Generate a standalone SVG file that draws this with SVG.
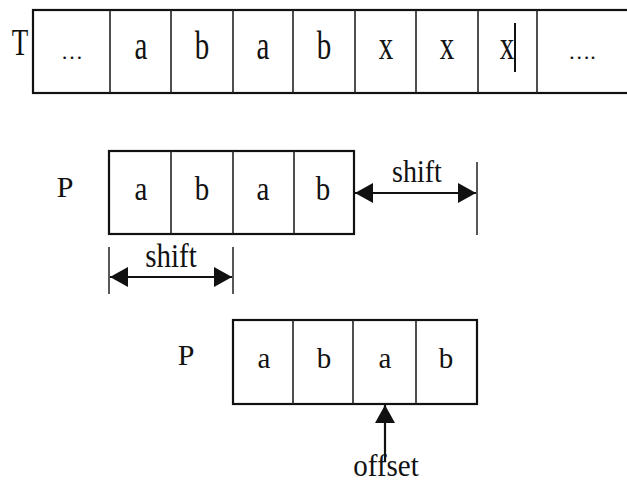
<svg xmlns="http://www.w3.org/2000/svg" width="627" height="482" viewBox="0 0 627 482" font-family="Liberation Serif, Times New Roman, DejaVu Serif, serif">
<style>
text{font-family:'Liberation Serif','Times New Roman','DejaVu Serif',serif;font-size:29px;fill:#111;text-anchor:middle}
.box{fill:#fff;stroke:#111;stroke-width:2.2}
.div{stroke:#222;stroke-width:1.6}
.conn{stroke:#111;stroke-width:2.2;fill:none}
.tick{stroke:#111;stroke-width:1.4}
.dots{font-size:22px}
</style>
<defs>
<marker id="ah" viewBox="0 0 18 20" refX="18" refY="10" markerWidth="18" markerHeight="20" markerUnits="userSpaceOnUse" orient="auto-start-reverse">
<path d="M0,0 L18,10 L0,20 Z" fill="#111"/>
</marker>
</defs>
<rect width="627" height="482" fill="#fff"/>
<g id="text-T">
<text transform="translate(20,55) scale(1,1.4)" style="font-size:27px">T</text>
<rect class="box" x="33" y="10" width="600" height="83"/>
<line class="div" x1="110" y1="10" x2="110" y2="93"/>
<line class="div" x1="171" y1="10" x2="171" y2="93"/>
<line class="div" x1="233" y1="10" x2="233" y2="93"/>
<line class="div" x1="293" y1="10" x2="293" y2="93"/>
<line class="div" x1="355" y1="10" x2="355" y2="93"/>
<line class="div" x1="416" y1="10" x2="416" y2="93"/>
<line class="div" x1="478" y1="10" x2="478" y2="93"/>
<line class="div" x1="537" y1="10" x2="537" y2="93"/>
<text class="dots" x="72" y="59">…</text>
<text transform="translate(141,59) scale(1,1.35)">a</text>
<text transform="translate(202,59) scale(1,1.35)">b</text>
<text transform="translate(263,59) scale(1,1.35)">a</text>
<text transform="translate(324,59) scale(1,1.35)">b</text>
<text transform="translate(386,59) scale(1,1.35)">x</text>
<text transform="translate(447,59) scale(1,1.35)">x</text>
<text transform="translate(507,59) scale(1,1.35)">x</text>
<line x1="515" y1="23" x2="515" y2="72" stroke="#111" stroke-width="2"/>
<text class="dots" x="582" y="59">….</text>
</g>
<g id="pattern-P1">
<text x="65" y="197" style="font-size:30px">P</text>
<rect class="box" x="109" y="151" width="245" height="83"/>
<line class="div" x1="171" y1="151" x2="171" y2="234"/>
<line class="div" x1="233" y1="151" x2="233" y2="234"/>
<line class="div" x1="294" y1="151" x2="294" y2="234"/>
<text transform="translate(141,200) scale(1,1.15)">a</text>
<text transform="translate(202,200) scale(1,1.15)">b</text>
<text transform="translate(263,200) scale(1,1.15)">a</text>
<text transform="translate(323,200) scale(1,1.15)">b</text>
</g>
<g id="pattern-P2">
<text x="186" y="365" style="font-size:30px">P</text>
<rect class="box" x="233" y="320" width="244" height="84"/>
<line class="div" x1="293" y1="320" x2="293" y2="404"/>
<line class="div" x1="353" y1="320" x2="353" y2="404"/>
<line class="div" x1="416" y1="320" x2="416" y2="404"/>
<text transform="translate(264,368) scale(1,1.05)">a</text>
<text transform="translate(324,368) scale(1,1.05)">b</text>
<text transform="translate(385,368) scale(1,1.05)">a</text>
<text transform="translate(446,368) scale(1,1.05)">b</text>
</g>
<g id="connectors">
<line class="conn" x1="355" y1="193" x2="476" y2="193" marker-start="url(#ah)" marker-end="url(#ah)"/>
<line class="tick" x1="477" y1="162" x2="477" y2="235"/>
<text transform="translate(417,182) scale(1,1.15)" style="font-size:28px">shift</text>
<line class="tick" x1="109" y1="247" x2="109" y2="294"/>
<line class="tick" x1="233" y1="247" x2="233" y2="294"/>
<line class="conn" x1="110" y1="277" x2="232" y2="277" marker-start="url(#ah)" marker-end="url(#ah)"/>
<text transform="translate(171,267) scale(1,1.15)" style="font-size:29px">shift</text>
<line class="conn" x1="385" y1="462" x2="385" y2="405" marker-end="url(#ah)"/>
<text transform="translate(386,476) scale(1,1.1)" style="font-size:29px">offset</text>
</g>
</svg>
